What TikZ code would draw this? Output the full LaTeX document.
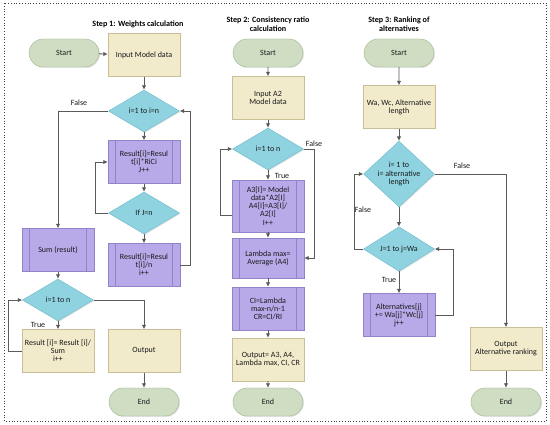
\documentclass[tikz,border=0pt]{standalone}
\usepackage{fontspec}
\setmainfont{Carlito}
\usetikzlibrary{shapes.geometric,shapes.misc,arrows.meta,shadows,calc}
\definecolor{termfill}{HTML}{CFDDC3}
\definecolor{termdraw}{HTML}{9CB58B}
\definecolor{iofill}{HTML}{F1EBCB}
\definecolor{iodraw}{HTML}{C9BE95}
\definecolor{decfill}{HTML}{8FD3E1}
\definecolor{decdraw}{HTML}{6CBBCB}
\definecolor{prfill}{HTML}{B8A9E9}
\definecolor{prdraw}{HTML}{9282C9}
\definecolor{arrcol}{HTML}{5A5A5A}
\tikzset{
  base/.style={font=\fontsize{8}{8.1}\selectfont, align=center, inner sep=1pt, text=black!90,
    drop shadow={opacity=0.2, shadow xshift=1pt, shadow yshift=-1pt}},
  term/.style={base, rounded rectangle, fill=termfill, draw=termdraw, minimum width=72pt, minimum height=28pt},
  iobox/.style={base, rectangle, fill=iofill, draw=iodraw, minimum width=72pt, minimum height=43pt},
  dec/.style={base, diamond, fill=decfill, draw=decdraw, minimum width=71pt, minimum height=42pt, inner sep=0pt},
  prbox/.style={base, rectangle, fill=prfill, draw=prdraw, minimum width=72pt, minimum height=43pt,
    path picture={\draw[prdraw] ([xshift=7.5pt]path picture bounding box.north west) -- ([xshift=7.5pt]path picture bounding box.south west);
                  \draw[prdraw] ([xshift=-7.5pt]path picture bounding box.north east) -- ([xshift=-7.5pt]path picture bounding box.south east);}},
  ttl/.style={font=\fontsize{8.1}{9.3}\selectfont\bfseries, align=center},
  lbl/.style={font=\fontsize{8}{9}\selectfont, text=black!90, inner sep=1pt},
  arr/.style={draw=arrcol, line width=0.9pt, -{Latex[length=4.5pt,width=4.5pt]}},
}
\begin{document}
\begin{tikzpicture}[x=1pt,y=-1pt]
\useasboundingbox (0,0) rectangle (550,425);
\fill[white] (0,0) rectangle (550,425);
\draw[black!75, line width=0.8pt, dotted] (4,3) rectangle (546,421);

% Step 1
\node[ttl] (t1) at (138,24) {Step 1: Weights calculation};
\node[term] (s1) at (64,53) {Start};
\node[iobox] (in1) at (144,55) {Input Model data};
\node[dec] (d1) at (144,111) {i=1 to i=n};
\node[prbox] (r1) at (144,162) {Result[i]=Resul\\t[i]*RiCi\\J++};
\node[dec] (d2) at (144,213) {If J=n};
\node[prbox] (r2) at (144,265) {Result[i]=Resul\\t[i]/n\\i++};
\node[prbox] (sum) at (58,250) {Sum (result)};
\node[dec] (d3) at (58,300) {i=1 to n};
\node[iobox] (r3) at (58,351) {Result [i]= Result [i]/\\Sum\\i++};
\node[iobox] (out1) at (144,351) {Output};
\node[term] (e1) at (144,402) {End};

\draw[arr] (s1) -- (in1);
\draw[arr] (in1) -- (d1);
\draw[arr] (d1) -- (r1);
\draw[arr] (r1) -- (d2);
\draw[arr] (d2) -- (r2);
\draw[arr] (r2.east) -- ++(10,0) |- (d1.east);
\draw[arr] (d2.west) -- ++(-13,0) |- (r1.west);
\draw[arr] (d1.west) -| (sum.north);
\node[lbl] (f1) at (79,103) {False};
\draw[arr] (sum) -- (d3);
\draw[arr] (d3) -- (r3);
\node[lbl] (tr1) at (38,325) {True};
\draw[arr] (r3.west) -- ++(-13,0) |- (d3.west);
\draw[arr] (d3.east) -| (out1.north);
\draw[arr] (out1) -- (e1);

% Step 2
\node[ttl] (t2) at (268,24.5) {Step 2: Consistency ratio\\calculation};
\node[term] (s2) at (268,53) {Start};
\node[iobox] (in2) at (268,98) {Input A2\\Model data};
\node[dec] (d4) at (268,149) {i=1 to n};
\node[prbox, minimum height=52pt] (r4) at (268,206) {A3[I]= Model\\data*A2[I]\\A4[I]=A3[I]/\\A2[I]\\I++};
\node[prbox, minimum height=40pt] (r5) at (268,258) {Lambda max=\\Average (A4)};
\node[prbox] (r6) at (268,308.5) {CI=Lambda\\max-n/n-1\\CR=CI/RI};
\node[iobox] (out2) at (268,359.5) {Output= A3, A4,\\Lambda max, CI, CR};
\node[term] (e2) at (268,402) {End};

\draw[arr] (s2) -- (in2);
\draw[arr] (in2) -- (d4);
\draw[arr] (d4) -- (r4);
\node[lbl] (tr2) at (282,176) {True};
\draw[arr] (r4) -- (r5);
\draw[arr] (r5) -- (r6);
\draw[arr] (r6) -- (out2);
\draw[arr] (out2) -- (e2);
\draw[arr] (d4.east) -- ++(11,0) |- (r5.east);
\node[lbl] (f2) at (314,144) {False};
\draw[arr] ([yshift=-9pt]r4.west) -- ++(-11,0) |- (d4.west);

% Step 3
\node[ttl] (t3) at (399,24.5) {Step 3: Ranking of\\alternatives};
\node[term] (s3) at (399,53) {Start};
\node[iobox] (in3) at (399,107) {Wa, Wc, Alternative\\length};
\node[dec, minimum height=58pt] (d5) at (399,174) {i= 1 to\\i= alternative\\length};
\node[dec] (d6) at (399,249) {J=1 to j=Wa};
\node[prbox] (r7) at (399,315) {Alternatives[j]\\+= Wa[j]*Wc[j]\\j++};
\node[iobox] (out3) at (506,349) {Output\\Alternative ranking};
\node[term] (e3) at (506,402) {End};

\draw[arr] (s3) -- (in3);
\draw[arr] (in3) -- (d5);
\draw[arr] (d5) -- (d6);
\draw[arr] (d6) -- (r7);
\node[lbl] (tr3) at (389,280) {True};
\draw[arr] (d5.east) -| (out3.north);
\node[lbl] (f3) at (462,166) {False};
\draw[arr] (d6.west) -- ++(-9,0) |- (d5.west);
\node[lbl] (f4) at (363,210) {False};
\draw[arr] (r7.east) -- ++(18,0) |- (d6.east);
\draw[arr] (out3) -- (e3);
\end{tikzpicture}
\end{document}
